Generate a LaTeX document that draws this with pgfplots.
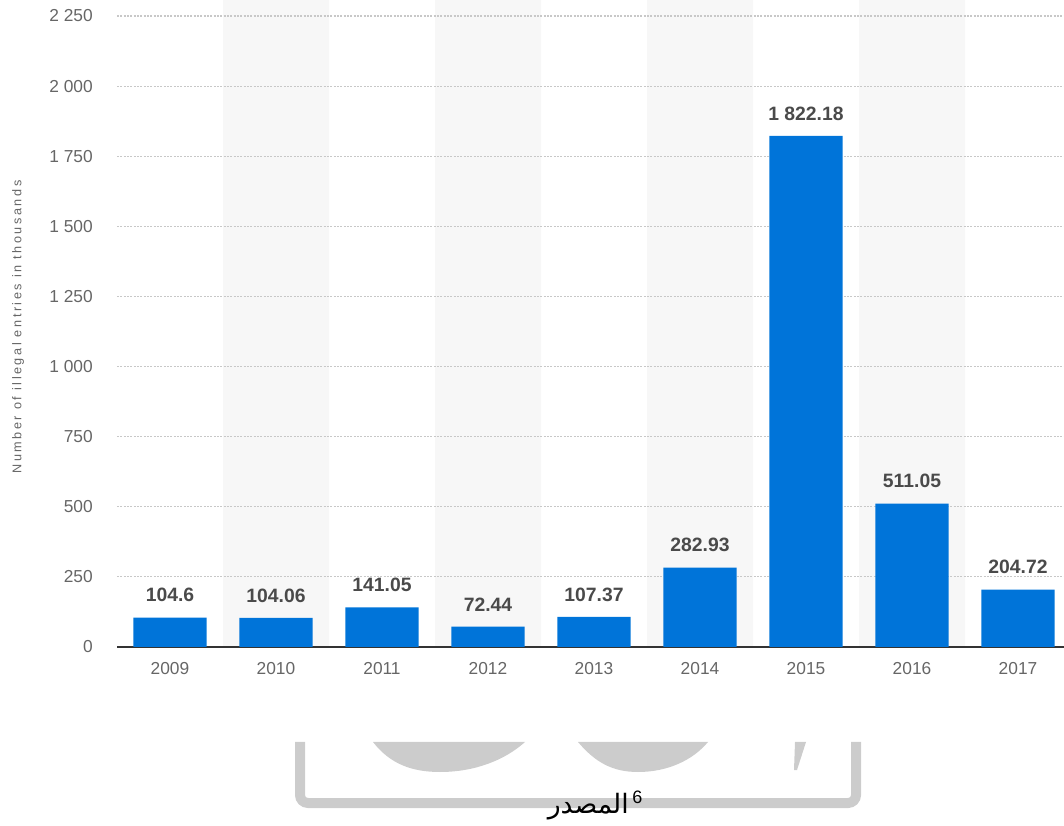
\documentclass[border=0pt]{standalone}
\usepackage{fontspec}
\setmainfont{Liberation Sans}
\newfontfamily\arabicfont[Script=Arabic]{DejaVu Sans}
\TeXXeTstate=1
\usepackage{pgfplots}
\pgfplotsset{compat=1.18}
\definecolor{barblue}{RGB}{0,116,217}
\definecolor{band}{RGB}{247,247,247}
\definecolor{tickgray}{RGB}{102,102,102}
\definecolor{valgray}{RGB}{74,74,74}
\definecolor{gridgray}{RGB}{200,200,200}
\definecolor{axisdark}{RGB}{51,51,51}
\definecolor{logogray}{RGB}{204,204,204}
\begin{document}
\begin{tikzpicture}
\begin{axis}[
  at={(87.75pt,133.5pt)}, anchor=south west,
  scale only axis, width=710.25pt, height=473.25pt,
  xmin=-0.5, xmax=8.434, ymin=0, ymax=2250,
  clip=false, set layers,
  axis x line*=bottom, axis y line*=left,
  x axis line style={draw=axisdark, line width=1.2pt, -},
  y axis line style={draw=none, -},
  xtick={0,...,8},
  xticklabels={2009,2010,2011,2012,2013,2014,2015,2016,2017},
  ytick={0,250,...,2250},
  major tick length=0pt,
  ymajorgrids,
  grid style={gridgray, line width=0.8pt, dash pattern=on 1.5pt off 1pt},
  tick label style={font=\fontsize{13}{15}\selectfont, text=tickgray},
  xticklabel style={inner sep=0pt, anchor=north, yshift=-11.25pt},
  yticklabel style={inner sep=0pt, anchor=east, xshift=-18pt},
  /pgf/number format/assume math mode=true,
  /pgf/number format/1000 sep={\ },
  ylabel={Number of illegal entries in thousands},
  ylabel style={at={(axis description cs:-0.1045,0.507)}, anchor=center,
    font=\fontsize{9.5}{10}\selectfont\addfontfeature{LetterSpace=20}, text=tickgray},
]
\addplot[ybar, bar width=1, bar shift=0pt, fill=band, draw=none,
  on layer=axis background, forget plot]
  coordinates {(1,2307) (3,2307) (5,2307) (7,2307)};
\addplot[ybar, bar width=0.689, bar shift=0pt, fill=barblue, draw=none,
  point meta=explicit symbolic, nodes near coords,
  nodes near coords style={font=\bfseries\fontsize{14.5}{16}\selectfont,
    text=valgray, anchor=south, inner sep=0pt, yshift=11.5pt}]
  coordinates {
    (0,104.6) [104.6]
    (1,104.06) [104.06]
    (2,141.05) [141.05]
    (3,72.44) [72.44]
    (4,107.37) [107.37]
    (5,282.93) [282.93]
    (6,1822.18) [1 822.18]
    (7,511.05) [511.05]
    (8,204.72) [204.72]
  };
\end{axis}
\begin{scope}[x=0.75pt, y=-0.75pt, shift={(0pt,618.75pt)}]
  \fill[logogray] (373,742) .. controls (390,764) and (412,772) .. (440,772)
     .. controls (475,772) and (505,760) .. (525,742) -- cycle;
  \fill[logogray] (578,742) .. controls (595,762) and (612,772) .. (638,772)
     .. controls (668,772) and (693,760) .. (708,742) -- cycle;
  \fill[logogray] (795,742) -- (806,742) -- (797,770) -- (794,770) -- cycle;
  \draw[logogray, line width=7.5pt, rounded corners=6pt]
     (300,742) -- (300,803) -- (856,803) -- (856,742);
  \node[anchor=base east, inner sep=0pt] at (629,813)
    {\fontsize{20}{22}\selectfont\arabicfont\beginR المصدر\endR};
  \node[anchor=base west, inner sep=0pt] at (632,803)
    {\fontsize{13.5}{15}\selectfont 6};
\end{scope}
\pgfresetboundingbox
\useasboundingbox (0,0) rectangle (798pt,618.75pt);
\end{tikzpicture}
\end{document}
